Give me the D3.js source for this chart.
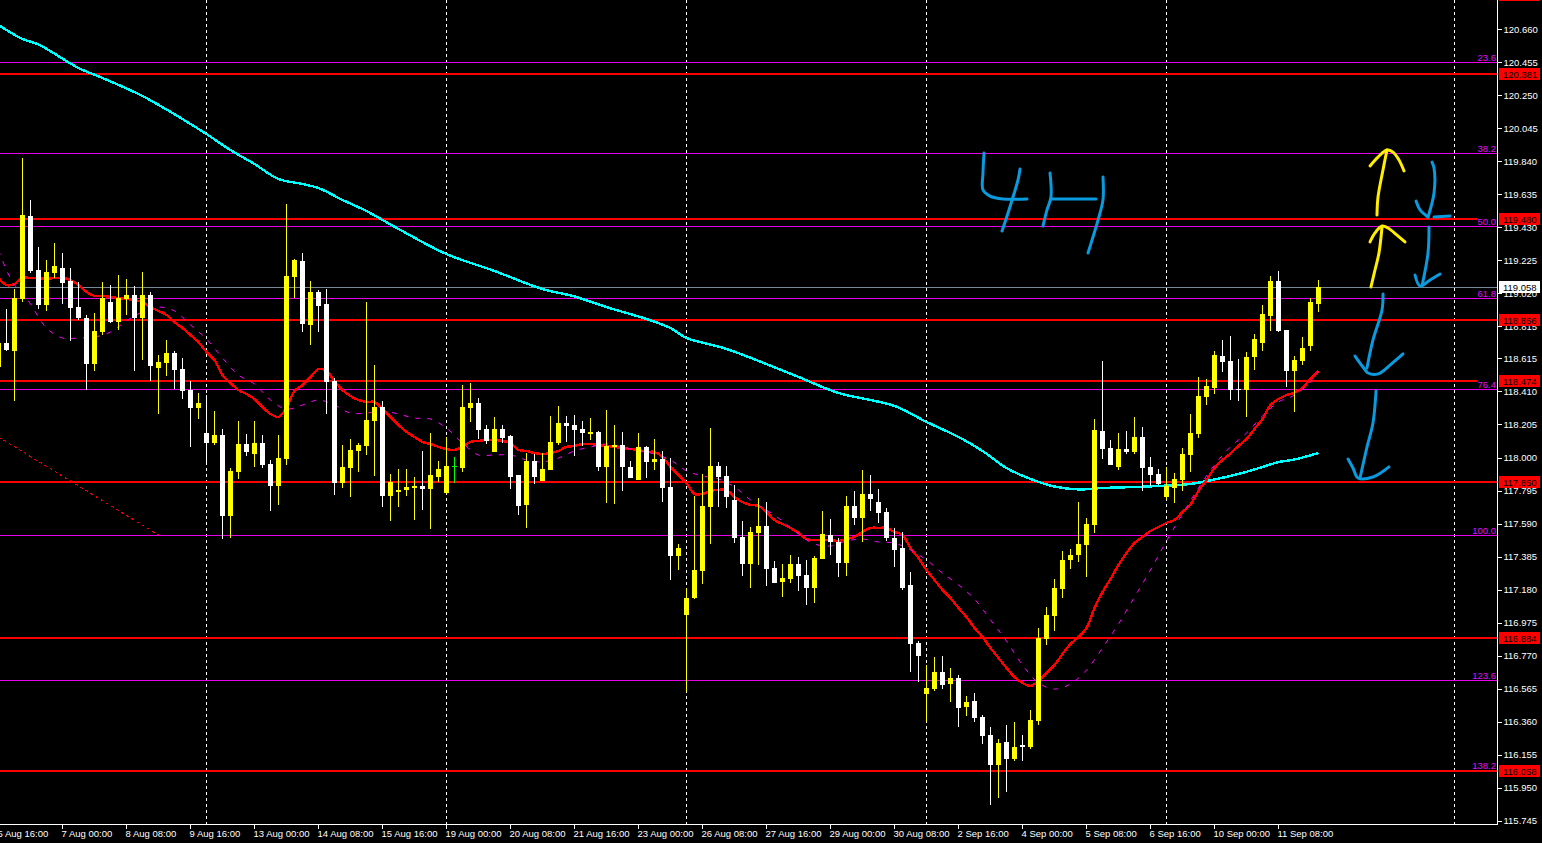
<!DOCTYPE html>
<html><head><meta charset="utf-8">
<style>html,body{margin:0;padding:0;background:#000;overflow:hidden}svg{display:block;font-family:"Liberation Sans",Arial,sans-serif}</style>
<script src="https://cdn.jsdelivr.net/npm/d3@7"></script>
</head><body><svg id="c" width="1542" height="843"></svg>
<script>
// candles: first value is bar -1, one value per 4H bar
const opens=[118.565,118.714,118.665,118.987,119.502,119.167,118.950,119.148,119.179,119.099,
118.937,118.869,118.584,118.782,118.969,118.844,118.987,119.012,118.869,119.012,
118.559,118.590,118.652,118.552,118.422,118.310,118.155,118.093,118.143,117.640,
117.914,118.087,118.025,118.093,117.963,117.827,117.994,119.124,119.223,118.826,
119.031,118.956,118.478,117.845,117.938,118.044,118.075,118.230,118.316,117.765,
117.789,117.802,117.814,117.827,117.808,117.883,117.783,117.951,117.938,118.310,
118.341,118.180,118.038,118.180,118.137,117.895,117.709,117.982,117.858,117.926,
118.093,118.217,118.205,118.180,118.149,118.162,117.944,118.068,118.081,117.944,
117.864,118.068,117.976,117.994,117.820,117.392,117.026,117.131,117.299,117.696,
117.951,117.889,117.740,117.510,117.342,117.535,117.578,117.317,117.230,117.249,
117.342,117.274,117.193,117.373,117.522,117.478,117.348,117.703,117.628,117.777,
117.727,117.665,117.503,117.441,117.212,116.852,116.535,116.566,116.672,116.597,
116.634,116.455,116.492,116.393,116.281,116.095,116.238,116.132,116.219,116.207,
116.368,116.877,117.020,117.187,117.367,117.398,117.460,117.584,118.168,118.062,
117.944,118.056,118.038,118.131,117.944,117.901,117.758,117.814,117.864,118.019,
118.149,118.379,118.434,118.633,118.602,118.428,118.422,118.627,118.714,118.882,
119.099,118.795,118.540,118.602,118.695,118.956];
const closes=[118.714,118.671,118.993,119.509,119.161,118.950,119.155,119.192,119.087,118.931,
118.869,118.584,118.789,118.993,118.844,118.993,119.012,118.869,119.012,118.571,
118.596,118.652,118.546,118.416,118.310,118.341,118.093,118.143,117.640,117.920,
118.087,118.038,118.093,117.957,117.827,118.000,119.130,119.229,118.832,119.031,
118.944,118.471,117.845,117.944,118.050,118.081,118.236,118.316,117.765,117.851,
117.802,117.820,117.827,117.808,117.895,117.932,117.951,117.951,118.316,118.341,
118.174,118.106,118.180,118.124,117.883,117.703,117.982,117.883,117.932,118.100,
118.217,118.199,118.174,118.155,118.162,117.944,118.075,118.081,117.944,117.876,
118.068,117.976,117.994,117.814,117.392,117.441,117.131,117.305,117.703,117.951,
117.883,117.758,117.503,117.342,117.541,117.578,117.311,117.224,117.255,117.342,
117.268,117.193,117.379,117.528,117.478,117.348,117.703,117.628,117.777,117.746,
117.659,117.503,117.429,117.193,116.846,116.771,116.573,116.672,116.591,116.634,
116.449,116.486,116.386,116.275,116.095,116.232,116.132,116.207,116.207,116.374,
116.883,117.026,117.193,117.367,117.398,117.466,117.590,118.174,118.056,117.957,
118.056,118.038,118.131,117.938,117.895,117.839,117.827,117.870,118.025,118.155,
118.385,118.447,118.640,118.596,118.422,118.425,118.627,118.739,118.894,119.099,
118.789,118.540,118.608,118.683,118.969,119.062];
const highs=[118.764,118.925,119.049,119.862,119.602,119.310,119.229,119.334,119.272,119.179,
119.093,118.888,118.900,119.093,119.074,119.136,119.111,119.068,119.155,119.031,
118.640,118.733,118.665,118.621,118.478,118.403,118.391,118.292,118.180,117.938,
118.230,118.149,118.230,118.143,117.988,118.143,119.577,119.235,119.272,119.099,
119.043,119.049,118.496,118.081,118.118,118.093,118.969,118.577,118.354,117.901,
117.932,117.932,117.883,118.044,118.155,117.982,118.131,118.007,118.453,118.465,
118.372,118.205,118.254,118.205,118.143,117.895,118.031,118.025,118.031,118.261,
118.323,118.261,118.267,118.230,118.248,118.168,118.298,118.205,118.162,117.982,
118.155,118.075,118.118,118.044,118.000,117.466,117.193,117.765,117.901,118.186,
117.976,117.951,117.833,117.609,117.572,117.752,117.728,117.361,117.342,117.398,
117.386,117.367,117.392,117.671,117.621,117.503,117.765,117.796,117.926,117.895,
117.808,117.690,117.566,117.541,117.293,116.865,116.715,116.765,116.771,116.696,
116.653,116.523,116.541,116.405,116.330,116.256,116.343,116.361,116.281,116.436,
116.945,117.075,117.249,117.423,117.435,117.727,117.628,118.242,118.602,118.112,
118.155,118.168,118.254,118.193,118.007,117.932,117.944,117.907,118.062,118.273,
118.503,118.490,118.665,118.733,118.758,118.615,118.658,118.770,118.950,119.130,
119.161,118.795,118.634,118.751,118.993,119.105];
const lows=[118.534,118.665,118.354,118.969,119.148,118.925,118.913,119.118,118.956,118.727,
118.857,118.422,118.540,118.764,118.838,118.795,118.888,118.540,118.608,118.478,
118.273,118.509,118.428,118.366,118.068,118.242,117.963,118.081,117.497,117.503,
117.870,118.013,117.945,117.938,117.671,117.709,117.957,118.993,118.782,118.702,
118.782,118.273,117.771,117.814,117.758,117.914,118.019,117.889,117.696,117.609,
117.696,117.765,117.615,117.677,117.559,117.851,117.777,117.845,117.914,118.224,
118.118,118.087,118.038,118.093,117.808,117.646,117.566,117.839,117.858,117.926,
118.081,118.100,118.013,118.075,118.112,117.920,117.721,117.715,117.796,117.876,
117.864,117.876,117.926,117.728,117.243,117.305,116.548,117.125,117.218,117.466,
117.696,117.690,117.472,117.268,117.193,117.336,117.206,117.224,117.137,117.224,
117.175,117.088,117.100,117.373,117.398,117.262,117.268,117.584,117.479,117.671,
117.597,117.485,117.324,117.181,116.672,116.610,116.361,116.554,116.566,116.486,
116.330,116.399,116.361,116.225,115.846,115.890,115.927,116.120,116.120,116.194,
116.343,116.840,116.927,117.131,117.311,117.355,117.262,117.535,117.994,117.957,
117.926,118.025,118.025,117.796,117.827,117.833,117.740,117.721,117.796,117.914,
118.124,118.329,118.397,118.534,118.360,118.354,118.254,118.546,118.665,118.788,
118.782,118.441,118.286,118.577,118.665,118.906];
// fast moving average (solid red), bars -1..164
const redMA=[119.118,119.074,119.080,119.118,119.118,119.118,119.111,119.118,119.118,119.105,119.074,
119.031,119.006,119.006,119.000,118.993,118.987,118.981,118.969,118.937,118.913,
118.888,118.844,118.807,118.764,118.720,118.658,118.608,118.515,118.465,118.422,
118.397,118.366,118.316,118.273,118.255,118.310,118.416,118.453,118.503,118.552,
118.540,118.478,118.422,118.385,118.360,118.348,118.348,118.304,118.255,118.205,
118.162,118.131,118.100,118.087,118.069,118.056,118.050,118.069,118.100,118.106,
118.112,118.112,118.106,118.093,118.050,118.044,118.031,118.025,118.031,118.044,
118.069,118.075,118.087,118.087,118.081,118.075,118.069,118.062,118.056,118.050,
118.038,118.038,118.007,117.945,117.895,117.845,117.777,117.777,117.796,117.802,
117.802,117.758,117.727,117.709,117.703,117.665,117.615,117.590,117.566,117.535,
117.497,117.491,117.491,117.491,117.485,117.497,117.510,117.541,117.566,117.566,
117.566,117.541,117.522,117.441,117.379,117.305,117.243,117.181,117.131,117.069,
117.013,116.945,116.889,116.821,116.759,116.697,116.641,116.604,116.585,116.616,
116.665,116.715,116.783,116.846,116.889,116.945,117.069,117.168,117.249,117.336,
117.411,117.472,117.510,117.547,117.572,117.597,117.615,117.665,117.712,117.796,
117.864,117.938,117.988,118.028,118.075,118.118,118.180,118.242,118.329,118.366,
118.391,118.406,118.435,118.490,118.540];
// slow moving average (dashed magenta)
const magentaBars=[-1,0,1,2,3,5,7,9,11,13,15,17,19,21,23,25,27,29,31,33,35,37,39,41,43,45,47,49,51,53,55,57,59,61,63,65,67,69,71,73,75,77,79,81,83,85,87,89,91,93,95,97,99,101,103,105,107,109,111,113,115,117,119,121,123,125,127,129,131,133,135,137,139,141,143,145,147,149,151,153,155,157,159,161,163,164];
const magentaMA=[119.291,119.167,119.074,119.024,118.956,118.807,118.745,118.745,118.751,118.782,118.851,118.907,118.937,118.913,118.826,118.739,118.621,118.515,118.459,118.360,118.304,118.329,118.360,118.329,118.279,118.279,118.292,118.273,118.248,118.242,118.186,118.093,118.019,118.019,118.019,117.988,117.976,118.000,118.044,118.069,118.087,118.069,118.044,118.025,117.988,117.920,117.889,117.870,117.820,117.740,117.677,117.609,117.528,117.466,117.454,117.485,117.497,117.479,117.472,117.429,117.367,117.286,117.212,117.125,116.995,116.864,116.715,116.604,116.566,116.597,116.684,116.821,116.970,117.137,117.305,117.485,117.653,117.814,117.957,118.069,118.155,118.261,118.348,118.391,118.472,118.540];
// long moving average (cyan)
const cyanBars=[-1,2,4,9,12,17,22,25,28,31,34,37,39,42,45,49,55,61,67,71,75,80,83,85,90,99,104,111,115,119,122,125,128,131,134,137,141,145,148,151,154,157,159,161,164];
const cyanMA=[120.688,120.601,120.567,120.421,120.359,120.247,120.104,120.011,119.912,119.825,119.732,119.701,119.676,119.602,119.533,119.422,119.266,119.161,119.049,119.003,118.937,118.863,118.807,118.745,118.677,118.503,118.404,118.323,118.224,118.131,118.044,117.938,117.870,117.823,117.805,117.814,117.820,117.829,117.839,117.867,117.901,117.944,117.975,117.991,118.031];
// dotted trend line
const trendBars=[-1,19];
const trendPrices=[118.131,117.522];
// horizontal levels
const redLevels=[120.870,120.381,119.480,118.856,118.474,117.850,116.884,116.058];
const fibLabels=["23.6","38.2","50.0","61.8","76.4","100.0","123.6","138.2"];
const fibPrices=[120.455,119.893,119.439,118.993,118.428,117.519,116.619,116.058];
const bidPrice=119.058;
// axes
const priceTicks=[120.660,120.455,120.250,120.045,119.840,119.635,119.430,119.225,119.020,118.815,118.615,118.410,118.205,118.000,117.795,117.590,117.385,117.180,116.975,116.770,116.565,116.360,116.155,115.950,115.745];
const timeLabels=["5 Aug 16:00","7 Aug 00:00","8 Aug 08:00","9 Aug 16:00","13 Aug 00:00","14 Aug 08:00","15 Aug 16:00","19 Aug 00:00","20 Aug 08:00","21 Aug 16:00","23 Aug 00:00","26 Aug 08:00","27 Aug 16:00","29 Aug 00:00","30 Aug 08:00","2 Sep 16:00","4 Sep 00:00","5 Sep 08:00","6 Sep 16:00","10 Sep 00:00","11 Sep 08:00"];
const timeBars=[-1,7,15,23,31,39,47,55,63,71,79,87,95,103,111,119,127,135,143,151,159];
const separatorBars=[25,55,85,115,145,181];
// hand-drawn annotations as [bar, price]
const blueStrokes=[
[[122.19,119.893],[122.06,119.769],[122.06,119.664],[122.94,119.626],[124.56,119.608],[127.56,119.608]],
[[126.69,119.794],[126.44,119.726],[125.81,119.620],[125.19,119.521],[124.44,119.409]],
[[130.44,119.769],[130.56,119.620],[130.06,119.540],[129.56,119.440]],
[[130.56,119.608],[136.19,119.608]],
[[137.06,119.744],[137.06,119.602],[136.44,119.477],[135.81,119.372],[135.19,119.273]],
[[178.19,119.837],[178.44,119.800],[178.44,119.645],[177.69,119.496]],
[[176.19,119.595],[176.69,119.540],[177.69,119.496]],
[[178.44,119.496],[180.44,119.502]],
[[177.81,119.434],[177.69,119.273],[176.94,119.068]],
[[176.06,119.136],[176.69,119.068],[177.94,119.105],[179.19,119.142]],
[[172.06,119.018],[171.94,118.919],[170.81,118.733],[170.06,118.559]],
[[168.56,118.633],[169.56,118.565],[170.19,118.528],[171.44,118.522],[172.94,118.577],[174.56,118.646]],
[[171.19,118.416],[170.81,118.217],[170.06,118.068],[169.19,117.876]],
[[167.69,117.994],[168.31,117.938],[168.94,117.876],[170.81,117.882],[172.81,117.945]]
];
const yellowStrokes=[
[[171.31,119.508],[171.44,119.620],[172.06,119.788],[172.56,119.912]],
[[170.44,119.813],[171.44,119.868],[172.56,119.912],[173.31,119.899],[174.06,119.850],[174.69,119.782]],
[[170.56,119.062],[171.06,119.167],[171.56,119.273],[171.94,119.434]],
[[170.44,119.341],[171.06,119.397],[171.94,119.440],[172.69,119.428],[173.81,119.384],[174.81,119.341]]
];

const W=1542,H=843,plotR=1497.5,plotB=824.5;
const x=d3.scaleLinear().domain([0,1]).range([6.5,14.5]);
const y=d3.scaleLinear().domain([120.66,115.745]).range([29.5,821.3]);
const px=v=>Math.round(y(v));
const thin=v=>Math.floor(y(v))+.5;
const thick=v=>Math.round(y(v)-.3);
const svg=d3.select("#c");
svg.append("rect").attr("width",W).attr("height",H).attr("fill","#000");
const defs=svg.append("defs");
defs.append("clipPath").attr("id","plot").append("rect").attr("width",plotR).attr("height",plotB);
const plot=svg.append("g").attr("clip-path","url(#plot)");

// separators
plot.selectAll(".sep").data(separatorBars).join("line").attr("class","sep")
 .attr("x1",d=>x(d)).attr("x2",d=>x(d)).attr("y1",0).attr("y2",plotB)
 .attr("stroke","#fff").attr("stroke-dasharray","3,3").attr("shape-rendering","crispEdges");
// fib levels
plot.selectAll(".fib").data(fibPrices).join("line").attr("class","fib")
 .attr("x1",0).attr("x2",plotR).attr("y1",thin).attr("y2",thin)
 .attr("stroke","#e800e8").attr("stroke-width",1).attr("shape-rendering","crispEdges");
// bid line
plot.append("line").attr("x1",0).attr("x2",plotR).attr("y1",thin(bidPrice)).attr("y2",thin(bidPrice))
 .attr("stroke","#778899").attr("shape-rendering","crispEdges");
// red levels
plot.selectAll(".lvl").data(redLevels).join("line").attr("class","lvl")
 .attr("x1",0).attr("x2",plotR).attr("y1",thick).attr("y2",thick)
 .attr("stroke","#f00").attr("stroke-width",2).attr("shape-rendering","crispEdges");
// trend
plot.append("path").attr("fill","none").attr("stroke","#f00000").attr("stroke-dasharray","3,3").attr("shape-rendering","crispEdges")
 .attr("d",d3.line().x(d=>x(d)).y((d,i)=>y(trendPrices[i]))(trendBars));
// MAs
const lineXY=(bars,vals,shift)=>d3.line().x((d,i)=>x(bars?bars[i]:i+shift)).y(d=>y(d)).curve(d3.curveCatmullRom)(vals);
plot.append("path").attr("fill","none").attr("stroke","#00ffff").attr("stroke-width",2.4).attr("shape-rendering","crispEdges").attr("d",lineXY(cyanBars,cyanMA));
plot.append("path").attr("fill","none").attr("stroke","#ff0000").attr("stroke-width",2.4).attr("shape-rendering","crispEdges").attr("d",lineXY(null,redMA,-1));
plot.append("path").attr("fill","none").attr("stroke","#ff00ff").attr("stroke-width",1).attr("stroke-dasharray","5,7").attr("d",lineXY(magentaBars,magentaMA));
// fib labels
const fibG=plot.selectAll(".fl").data(fibLabels).join("g").attr("class","fl");
fibG.append("rect").attr("x",d=>d.length>4?1472:1477).attr("width",d=>d.length>4?26:21)
 .attr("y",(d,i)=>thin(fibPrices[i])-10.5).attr("height",10).attr("fill","#000");
// candles
const bars=opens.map((o,i)=>({k:i-1,o,c:closes[i],h:highs[i],l:lows[i]}));
const col=d=>d.c>d.o?"#ffff00":d.c<d.o?"#ffffff":"#00ff00";
const cg=plot.append("g").attr("shape-rendering","crispEdges");
cg.selectAll(".w").data(bars).join("line").attr("class","w")
 .attr("x1",d=>x(d.k)).attr("x2",d=>x(d.k)).attr("y1",d=>px(d.h)).attr("y2",d=>px(d.l)).attr("stroke",col);
cg.selectAll(".b").data(bars).join("rect").attr("class","b")
 .attr("x",d=>x(d.k)-2.5).attr("width",5)
 .attr("y",d=>Math.min(px(d.o),px(d.c)))
 .attr("height",d=>Math.max(1,Math.abs(px(d.o)-px(d.c))))
 .attr("fill",col);
// annotations
const free=d3.line().x(d=>x(d[0])).y(d=>y(d[1])).curve(d3.curveCatmullRom);
plot.selectAll(".bs").data(blueStrokes).join("path").attr("class","bs").attr("d",free)
 .attr("fill","none").attr("stroke","#0a9ade").attr("stroke-width",3).attr("stroke-linecap","round").attr("stroke-linejoin","round");
plot.selectAll(".ys").data(yellowStrokes).join("path").attr("class","ys").attr("d",free)
 .attr("fill","none").attr("stroke","#ffee00").attr("stroke-width",3).attr("stroke-linecap","round").attr("stroke-linejoin","round");
// fib text over everything
svg.selectAll(".ft").data(fibLabels).join("text").attr("class","ft")
 .attr("x",1496).attr("y",(d,i)=>thin(fibPrices[i])-1.5).attr("text-anchor","end")
 .attr("font-size",9.5).attr("fill","#e010f8").text(d=>d);

// frame
svg.append("line").attr("x1",plotR).attr("x2",plotR).attr("y1",0).attr("y2",plotB).attr("stroke","#fff").attr("shape-rendering","crispEdges");
svg.append("line").attr("x1",0).attr("x2",plotR).attr("y1",plotB).attr("y2",plotB).attr("stroke","#fff").attr("shape-rendering","crispEdges");
// axes
const yAxis=d3.axisRight(y).tickValues(priceTicks).tickFormat(d3.format(".3f")).tickSize(4).tickPadding(2).offset(0);
const ga=svg.append("g").attr("transform",`translate(${plotR},0)`).call(yAxis);
ga.select(".domain").remove();
ga.selectAll("line").attr("stroke","#fff").attr("shape-rendering","crispEdges");
ga.selectAll("text").attr("fill","#fff").attr("font-size",9.5).attr("font-family","Liberation Sans");
const xAxis=d3.axisBottom(x).tickValues(timeBars).tickFormat((d,i)=>timeLabels[i]).tickSize(4).tickPadding(2).offset(0);
const gx=svg.append("g").attr("transform",`translate(0,${plotB})`).call(xAxis);
gx.select(".domain").remove();
gx.selectAll("line").attr("stroke","#fff").attr("shape-rendering","crispEdges");
gx.selectAll("text").attr("fill","#fff").attr("font-size",9.5).attr("font-family","Liberation Sans").attr("text-anchor","start").attr("x",-1);
// value boxes
const boxes=redLevels.map(p=>({p,bg:"#f00"})).concat([{p:bidPrice,bg:"#fff"}]);
const bg=svg.selectAll(".box").data(boxes).join("g").attr("class","box");
bg.append("rect").attr("x",1499).attr("width",41).attr("y",d=>thick(d.p)-6).attr("height",12).attr("fill",d=>d.bg);
bg.append("text").attr("x",1503).attr("y",d=>thick(d.p)+3.5).attr("font-size",9.5).attr("fill","#000").text(d=>d3.format(".3f")(d.p));
</script></body></html>
